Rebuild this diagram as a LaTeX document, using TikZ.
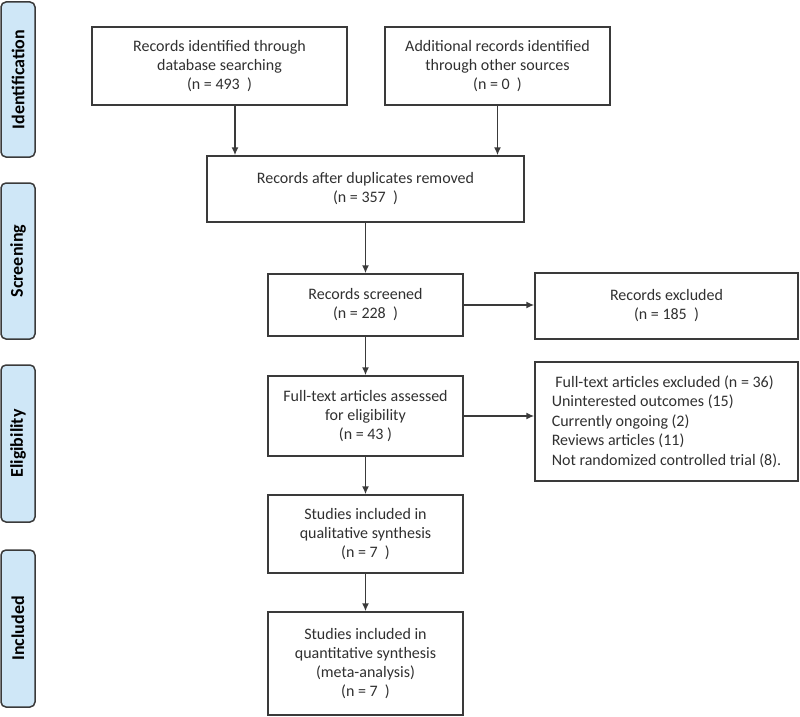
\documentclass[tikz,border=0pt]{standalone}
\usepackage{fontspec}
\setmainfont{Carlito}
\usetikzlibrary{arrows.meta}
\definecolor{linec}{HTML}{3A3A3A}
\definecolor{textc}{HTML}{303030}
\definecolor{sidefill}{HTML}{CFE7F7}
\tikzset{
  box/.style={draw=linec, line width=1.5pt, rectangle, align=center, text=textc,
    font=\fontsize{16}{19}\selectfont, inner sep=0pt},
  sidebox/.style={draw=linec, line width=1.5pt, rounded corners=5pt, fill=sidefill,
    minimum width=34pt, text=black, inner sep=0pt},
  sidetext/.style={rotate=90, font=\fontsize{18}{20}\selectfont\bfseries, text=black},
  arr/.style={draw=linec, line width=1.5pt, -{Latex[length=8pt,width=7pt]}}
}
\begin{document}
\begin{tikzpicture}[x=1pt,y=-1pt]
\useasboundingbox (0,0) rectangle (800,717);
% side labels
\node[sidebox, minimum height=155pt] (s1) at (18,79.5) {};
\node[sidetext] (t1) at (s1.center) {Identification};
\node[sidebox, minimum height=156pt] (s2) at (18,261) {};
\node[sidetext] (t2) at (s2.center) {Screening};
\node[sidebox, minimum height=157pt] (s3) at (18,443.5) {};
\node[sidetext] (t3) at (s3.center) {Eligibility};
\node[sidebox, minimum height=157pt] (s4) at (18,628.5) {};
\node[sidetext] (t4) at (s4.center) {Included};
% boxes
\node[box, minimum width=255pt, minimum height=78pt] (b1) at (219.5,66)
  {Records identified through\\database searching\\(n = 493~~)};
\node[box, minimum width=225pt, minimum height=78pt] (b2) at (497.5,66)
  {Additional records identified\\through other sources\\(n = 0~~)};
\node[box, minimum width=317pt, minimum height=66pt] (b3) at (365.5,189)
  {Records after duplicates removed\\(n = 357~~)};
\node[box, minimum width=195pt, minimum height=62pt] (b4) at (365.5,305)
  {Records screened\\(n = 228~~)};
\node[box, minimum width=263pt, minimum height=66pt] (b5) at (666.5,306)
  {Records excluded\\(n = 185~~)};
\node[box, minimum width=195pt, minimum height=80pt] (b6) at (365.5,416)
  {Full-text articles assessed\\for eligibility\\(n = 43 )};
\node[box, minimum width=263pt, minimum height=119pt, align=left,
  font=\fontsize{16}{19.5}\selectfont] (b7) at (666.5,421.5)
  {~Full-text articles excluded (n = 36)\\Uninterested outcomes (15)\\Currently ongoing (2)\\Reviews articles (11)\\Not randomized controlled trial (8).};
\node[box, minimum width=195pt, minimum height=78pt] (b8) at (365.5,534)
  {Studies included in\\qualitative synthesis\\(n = 7~~)};
\node[box, minimum width=195pt, minimum height=103pt] (b9) at (365.5,663.5)
  {Studies included in\\quantitative synthesis\\(meta-analysis)\\(n = 7~~)};
% connectors
\draw[arr] ([xshift=15.5pt]b1.south) -- ([xshift=15.5pt]b1.south |- b3.north);
\draw[arr] (b2.south) -- (b2.south |- b3.north);
\draw[arr] (b3.south) -- (b4.north);
\draw[arr] (b4.east) -- (b4.east -| b5.west);
\draw[arr] (b4.south) -- (b6.north);
\draw[arr] (b6.east) -- (b6.east -| b7.west);
\draw[arr] (b6.south) -- (b8.north);
\draw[arr] (b8.south) -- (b9.north);
\end{tikzpicture}
\end{document}
